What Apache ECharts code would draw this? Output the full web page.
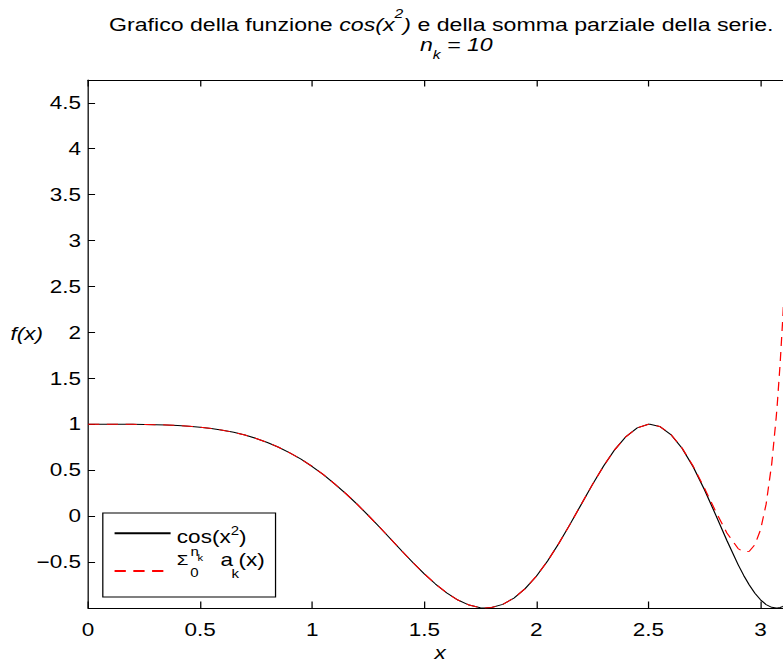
<!DOCTYPE html>
<html>
<head>
<meta charset="utf-8">
<script src="https://cdn.jsdelivr.net/npm/echarts@6/dist/echarts.min.js"></script>
<style>
  html, body { margin: 0; padding: 0; background: #fff; overflow: hidden; }
  #main { width: 626px; height: 662px; transform: scaleX(1.2508); transform-origin: 0 0; }
</style>
</head>
<body>
<div id="main"></div>
<script>
// x samples
const xs = [0, 0.05, 0.1, 0.15, 0.2, 0.25, 0.3, 0.35, 0.4, 0.45, 0.5, 0.55, 0.6, 0.65, 0.7, 0.75, 0.8, 0.85, 0.9, 0.95,
  1.0, 1.05, 1.1, 1.15, 1.2, 1.25, 1.3, 1.35, 1.4, 1.45, 1.5, 1.55, 1.6, 1.65, 1.7, 1.75, 1.7725, 1.8, 1.85, 1.9, 1.95,
  2.0, 2.05, 2.1, 2.15, 2.2, 2.25, 2.3, 2.35, 2.4, 2.45, 2.5, 2.5066, 2.55, 2.6, 2.65, 2.7, 2.75, 2.8, 2.85, 2.9, 2.925,
  2.95, 2.975, 3.0, 3.025, 3.05, 3.07, 3.075, 3.0875, 3.1, 3.125, 3.1416];
// cos(x^2)
const cosVals = [1, 1.0000, 1.0000, 0.9997, 0.9992, 0.9980, 0.9960, 0.9925, 0.9872, 0.9796, 0.9689, 0.9546, 0.9359, 0.9121,
  0.8823, 0.8459, 0.8021, 0.7502, 0.6895, 0.6197, 0.5403, 0.4514, 0.3508, 0.2457, 0.1304, 0.0083, -0.1189, -0.2490, -0.3795,
  -0.5069, -0.6282, -0.7391, -0.8352, -0.9134, -0.9684, -0.9969, -1.0000, -0.9952, -0.9608, -0.8923, -0.7895, -0.6536,
  -0.4891, -0.2978, -0.0898, 0.1274, 0.3429, 0.5465, 0.7244, 0.8662, 0.9609, 0.9994, 1.0000, 0.9760, 0.8885, 0.7390,
  0.5344, 0.2873, 0.0140, -0.2654, -0.5277, -0.6453, -0.7505, -0.8396, -0.9111, -0.9626, -0.9925, -1.0000, -0.9995,
  -0.9942, -0.9829, -0.9425, -0.9027];
// partial sum (n_k = 10)
const sumVals = [1, 1.0000, 1.0000, 0.9997, 0.9992, 0.9980, 0.9960, 0.9925, 0.9872, 0.9796, 0.9689, 0.9546, 0.9359, 0.9121,
  0.8823, 0.8459, 0.8021, 0.7502, 0.6895, 0.6197, 0.5403, 0.4514, 0.3508, 0.2457, 0.1304, 0.0083, -0.1189, -0.2490, -0.3795,
  -0.5069, -0.6282, -0.7391, -0.8352, -0.9134, -0.9684, -0.9969, -1.0000, -0.9952, -0.9608, -0.8923, -0.7895, -0.6536,
  -0.4891, -0.2978, -0.0898, 0.1274, 0.3429, 0.5465, 0.7244, 0.8662, 0.9609, 0.9994, 1.0009, 0.9767, 0.8900, 0.7424,
  0.5421, 0.3045, 0.0518, -0.1836, -0.3534, -0.3919, -0.3829, -0.3099, -0.1492, 0.1307, 0.5693, 1.0753, 1.2269,
  1.6610, 2.1830, 3.5431, 4.7478];

const xMin = 0, xMax = 3.1416, xStep = 0.5;
const yMin = -1, yMax = 4.7478, yStep = 0.5;

const FONT = 'Liberation Sans, Arial, Helvetica, sans-serif';
const CLEAR = 'rgba(255,255,255,0)';
const cosPts = xs.map((x, i) => [x, cosVals[i]]);
const sumPts = xs.map((x, i) => [x, sumVals[i]]);

function tok(size, padTop, extra) {
  return Object.assign({ fontSize: size, fontFamily: FONT, color: '#000', fontWeight: 'normal',
    verticalAlign: 'top', padding: [padTop, 0, 0, 0] }, extra || {});
}

const chart = echarts.init(document.getElementById('main'), null, { renderer: 'svg' });
chart.setOption({
  backgroundColor: '#fff',
  animation: false,
  title: {
    left: 352.8, top: 6.75, padding: 0, textAlign: 'center',
    text: '{m|Grafico della funzione }{i|cos(x}{is|2}{i|)}{m| e della somma parziale della serie.}\n{i1|n}{ik|k}{i2| = 10}',
    textStyle: {
      fontSize: 18.5, fontFamily: FONT, fontWeight: 'normal', color: '#000',
      rich: {
        m: tok(18.5, 8.6),
        i: tok(18.5, 8.6, { fontStyle: 'italic' }),
        is: tok(12.5, 0, { fontStyle: 'italic' }),
        i1: tok(18.5, 0.5, { fontStyle: 'italic', padding: [0.5, 0, 0, 24] }),
        i2: tok(18.5, 0.5, { fontStyle: 'italic' }),
        ik: tok(12.5, 13.4, { fontStyle: 'italic' })
      }
    }
  },
  legend: {
    orient: 'vertical', left: 82.2, top: 513,
    padding: [7.5, 8.6, 1.1, 8.4], itemGap: 0, itemWidth: 44.8, itemHeight: 14,
    borderColor: '#000', borderWidth: 1, backgroundColor: '#fff', selectedMode: false,
    itemStyle: { color: CLEAR, opacity: 0, borderWidth: 0 },
    data: ['cos', 'somma'],
    formatter: function (name) {
      if (name === 'cos') return '{m1|cos(x}{s1|2}{m1|)}';
      return '{sig|Σ}{z|0}{n|n}{nk|k}{a|a}{ak|k}{px|(x)}';
    },
    textStyle: {
      fontSize: 18, fontFamily: FONT, color: '#000',
      rich: {
        m1: tok(18, 7.6, { backgroundColor: CLEAR }),
        s1: tok(12, 4.3),
        sig: tok(15, 6.2, { width: 10.8 }),
        z: tok(12, 20.7, { width: 0.1 }),
        n: tok(12, 0, { width: 5.6 }),
        nk: tok(9, 7.3, { width: 18.4 }),
        a: tok(18, 4.7, { width: 8.8 }),
        ak: tok(12, 21.7, { width: 5.6 }),
        px: tok(18, 4.7, { padding: [4.7, 0, 27.1, 0], backgroundColor: CLEAR })
      }
    }
  },
  grid: { left: 70.4, top: 80, width: 563, height: 528, containLabel: false, outerBoundsMode: 'none' },
  xAxis: [{
    type: 'value', min: xMin, max: xMax, interval: xStep, position: 'bottom',
    name: 'x', nameLocation: 'middle', nameGap: 45.3, nameMoveOverlap: false,
    nameTextStyle: { fontSize: 18, fontStyle: 'italic', fontFamily: FONT, color: '#000',
      verticalAlign: 'middle', lineHeight: 14 },
    axisLine: { show: true, onZero: false, lineStyle: { color: '#000', width: 1 } },
    axisTick: { show: true, inside: true, length: 6.5, lineStyle: { color: '#000', width: 1 } },
    axisLabel: { show: true, margin: 12.5, fontSize: 18, fontFamily: FONT, color: '#000', showMaxLabel: false },
    splitLine: { show: false }
  }, {
    type: 'value', min: xMin, max: xMax, interval: xStep, position: 'top',
    axisLine: { show: true, onZero: false, lineStyle: { color: '#000', width: 1 } },
    axisTick: { show: true, inside: true, length: 6.5, lineStyle: { color: '#000', width: 1 } },
    axisLabel: { show: false }, splitLine: { show: false }
  }],
  yAxis: [{
    type: 'value', min: yMin, max: yMax, interval: yStep, position: 'left',
    name: 'f(x)', nameLocation: 'middle', nameGap: 36, nameRotate: 0, nameMoveOverlap: false,
    nameTextStyle: { fontSize: 18, fontStyle: 'italic', fontFamily: FONT, color: '#000',
      align: 'right', verticalAlign: 'bottom', lineHeight: 20 },
    axisLine: { show: true, onZero: false, lineStyle: { color: '#000', width: 1 } },
    axisTick: { show: true, inside: true, length: 5.6, lineStyle: { color: '#000', width: 1 } },
    axisLabel: { show: true, margin: 5.6, fontSize: 18, fontFamily: FONT, color: '#000',
      showMinLabel: false, showMaxLabel: false,
      formatter: v => String(v).replace('-', '\u2212') },
    splitLine: { show: false }
  }],
  series: [{
    name: 'cos', type: 'line', data: cosPts, showSymbol: false, symbol: 'none', silent: true,
    xAxisIndex: 0, yAxisIndex: 0,
    lineStyle: { color: '#000', width: 1 }, itemStyle: { color: '#000' }
  }, {
    name: 'somma', type: 'line', data: sumPts, showSymbol: false, symbol: 'none', silent: true,
    xAxisIndex: 0, yAxisIndex: 0,
    lineStyle: { color: '#ff0000', width: 1, type: [9, 6] }, itemStyle: { color: '#ff0000' }
  }]
});
</script>
</body>
</html>
